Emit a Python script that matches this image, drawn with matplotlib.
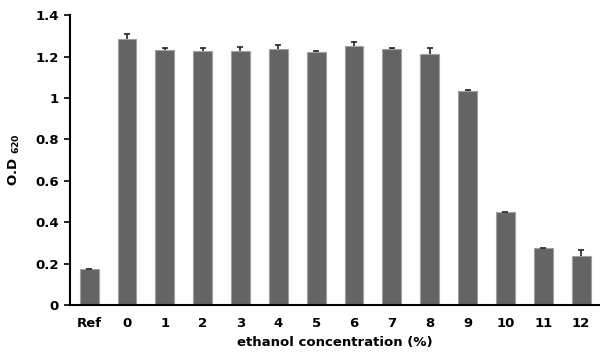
import matplotlib.pyplot as plt
import numpy as np

categories = ['Ref', '0', '1', '2', '3', '4', '5', '6', '7', '8', '9', '10', '11', '12']
od620 = [0.172, 1.285, 1.230, 1.227, 1.227, 1.235, 1.222, 1.250, 1.235, 1.213, 1.035, 0.448, 0.275, 0.235]
od620_err = [0.002, 0.026, 0.013, 0.016, 0.019, 0.021, 0.003, 0.021, 0.008, 0.027, 0.003, 0.003, 0.002, 0.030]
yticks = [0, 0.2, 0.4, 0.6, 0.8, 1.0, 1.2, 1.4]
ytick_labels = ['0', '0.2', '0.4', '0.6', '0.8', '1', '1.2', '1.4']

plt.rcParams['font.family'] = ['DejaVu Sans']

fig = plt.figure(figsize=(6, 3.6), dpi=100)
ax = fig.add_axes([0.117, 0.153, 0.883, 0.805])

x = np.arange(len(categories))
ax.bar(x, od620, width=0.5, color='#646464', edgecolor='#a0a0a0', linewidth=0.8)
eb = ax.errorbar(x, od620, yerr=[np.zeros(len(od620)), od620_err], fmt='none',
                 ecolor='#222222', elinewidth=1.2, capsize=2.5, capthick=1.2)
# only the upper half of the error bar is shown
eb[1][0].set_visible(False)

ax.set_xlim(-0.5, len(categories) - 0.5)
ax.set_ylim(0, 1.4)
ax.set_yticks(yticks)
ax.set_yticklabels(ytick_labels, fontsize=9.5, fontweight='bold')
ax.set_xticks(x)
ax.set_xticklabels(categories, fontsize=9.5, fontweight='bold')
ax.tick_params(axis='x', length=0, pad=9)
ax.tick_params(axis='y', direction='out', length=4, width=1.2, pad=4)

for side in ['top', 'right']:
    ax.spines[side].set_visible(False)
for side in ['left', 'bottom']:
    ax.spines[side].set_linewidth(1.5)

ax.set_xlabel('ethanol concentration (%)', fontsize=9.5, fontweight='bold', labelpad=4)
ax.set_ylabel(r'O.D $_{\mathbf{620}}$', fontsize=9.5, fontweight='bold', labelpad=10)

plt.savefig('out.png', dpi=100)
